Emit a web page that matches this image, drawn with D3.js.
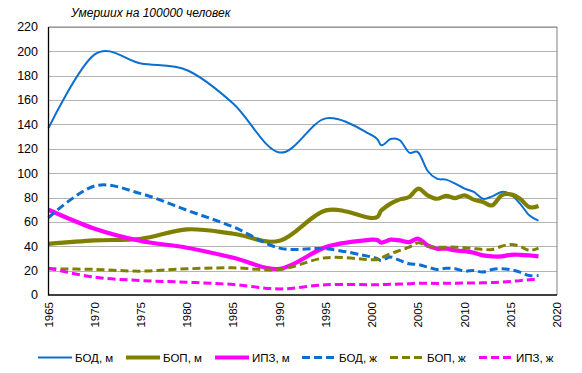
<!DOCTYPE html>
<html>
<head>
  <meta charset="utf-8">
  <title>Умерших на 100000 человек</title>
  <script src="https://d3js.org/d3.v7.min.js"></script>
  <style>
    body { margin: 0; background: #fff; }
    text { font-family: Arial, "Liberation Sans", sans-serif; fill: #000; }
  </style>
</head>
<body>
  <script>

// data
const years = [1965, 1970, 1975, 1980, 1985, 1990, 1995, 2000, 2001, 2002, 2003, 2004, 2005,
  2006, 2007, 2008, 2009, 2010, 2011, 2012, 2013, 2014, 2015, 2016, 2017, 2018];

const bodM = [137, 197.5, 190, 184.5, 157, 117, 145, 131, 123, 128, 127, 117, 117,
  102, 95.5, 94.7, 91.4, 87.3, 84.6, 79, 81, 84.6, 82.6, 75, 65.4, 61];
const bopM = [42, 44.8, 46.2, 53.9, 50.3, 44.5, 69.5, 63.2, 69.5, 75, 78.5, 80.4, 87.3,
  81.8, 79, 81.4, 79.6, 81.8, 78.3, 76.4, 73.6, 81.8, 82.6, 79, 72.2, 73];
const ipzM = [70, 54.4, 44.3, 38.8, 30.6, 21.5, 39.3, 45.4, 43, 45.4, 44.8, 43.4, 46.2,
  40.7, 38, 38, 36.6, 36, 34.7, 32.5, 31.7, 31.7, 33, 33, 32.5, 31.7];
const bodF = [63.5, 89.5, 83.2, 69.5, 55.8, 38.5, 38, 31.1, 28.4, 31.1, 28.4, 25.7, 25,
  22.9, 21, 22, 21.6, 19.6, 20.1, 18.8, 21, 21.6, 20.8, 18.8, 16, 16];
const bopF = [21.5, 21, 19.6, 21.5, 22.3, 21, 30.6, 28.9, 30.6, 33.9, 36.6, 39.3, 42.9,
  40, 39.3, 39.3, 39.3, 38.8, 38, 37.4, 37.4, 40, 41.5, 40, 36.6, 38.5];
const ipzF = [22, 14.6, 11.9, 10.5, 8.6, 5, 8.4, 8.4, 8.5, 8.8, 9, 9.3, 9.7,
  9.6, 9.5, 9.6, 9.7, 9.8, 9.9, 10, 10.2, 10.6, 11.1, 11.8, 12.5, 13.3];

const seriesNames = ["БОД, м", "БОП, м", "ИПЗ, м", "БОД, ж", "БОП, ж", "ИПЗ, ж"];
const xTicks = d3.range(1965, 2021, 5);
const yTicks = d3.range(0, 221, 20);

// styles for each series
const blue = "#0a6fd0", olive = "#808000", magenta = "#ff00ff";
const series = [
  { name: seriesNames[0], values: bodM, color: blue, width: 2, dash: null },
  { name: seriesNames[1], values: bopM, color: olive, width: 4.2, dash: null },
  { name: seriesNames[2], values: ipzM, color: magenta, width: 4.2, dash: null },
  { name: seriesNames[3], values: bodF, color: blue, width: 3, dash: "8,4" },
  { name: seriesNames[4], values: bopF, color: olive, width: 3, dash: "8,4" },
  { name: seriesNames[5], values: ipzF, color: magenta, width: 3, dash: "8,4" }
];

const W = 582, H = 373;
const svg = d3.select("body").append("svg")
  .attr("width", W)
  .attr("height", H);

const x = d3.scaleLinear().domain([1965, 2020]).range([48.5, 557]);
const y = d3.scaleLinear().domain([0, 220]).range([295, 27]);

// gridlines
svg.append("g")
  .selectAll("line")
  .data(yTicks.filter(d => d > 0))
  .enter().append("line")
  .attr("x1", x(1965)).attr("x2", x(2020))
  .attr("y1", d => Math.round(y(d)) + 0.5).attr("y2", d => Math.round(y(d)) + 0.5)
  .attr("stroke", "#b4b4b4")
  .attr("stroke-width", 1);

// top and right frame
svg.append("path")
  .attr("d", `M${x(1965)},${y(220)}H${x(2020)}V${y(0)}`)
  .attr("fill", "none")
  .attr("stroke", "#808080")
  .attr("stroke-width", 1);

// lines
const line = d3.line()
  .x((d, i) => x(years[i]))
  .y(d => y(d))
  .curve(d3.curveCardinal.tension(0));

svg.append("g")
  .selectAll("path")
  .data(series)
  .enter().append("path")
  .attr("d", d => line(d.values))
  .attr("fill", "none")
  .attr("stroke", d => d.color)
  .attr("stroke-width", d => d.width)
  .attr("stroke-dasharray", d => d.dash)
  .attr("stroke-linejoin", "round");

// axes (black left and bottom)
svg.append("path")
  .attr("d", `M${x(1965)},${y(220)}V${y(0)}H${x(2020)}`)
  .attr("fill", "none")
  .attr("stroke", "#000")
  .attr("stroke-width", 1.3);

svg.append("g")
  .selectAll("text")
  .data(yTicks)
  .enter().append("text")
  .attr("x", 38)
  .attr("y", d => y(d))
  .attr("dy", "0.35em")
  .attr("text-anchor", "end")
  .style("font-size", "12.5px")
  .text(d => d);

svg.append("g")
  .selectAll("text")
  .data(xTicks)
  .enter().append("text")
  .attr("transform", d => `translate(${x(d)},302) rotate(-90)`)
  .attr("dy", "0.35em")
  .attr("text-anchor", "end")
  .style("font-size", "11.5px")
  .text(d => d);

// title
svg.append("text")
  .attr("x", 71)
  .attr("y", 17)
  .style("font-size", "12px")
  .style("font-style", "italic")
  .text("Умерших на 100000 человек");

// legend
const legendX = [38, 126, 215, 302, 390, 479];
const legend = svg.append("g")
  .selectAll("g")
  .data(series)
  .enter().append("g")
  .attr("transform", (d, i) => `translate(${legendX[i]},357.5)`);

legend.append("line")
  .attr("x1", 0).attr("x2", 34)
  .attr("stroke", d => d.color)
  .attr("stroke-width", d => d.width)
  .attr("stroke-dasharray", d => d.dash);

legend.append("text")
  .attr("x", 37)
  .attr("dy", "0.35em")
  .style("font-size", "11.5px")
  .text(d => d.name);

  </script>
</body>
</html>
